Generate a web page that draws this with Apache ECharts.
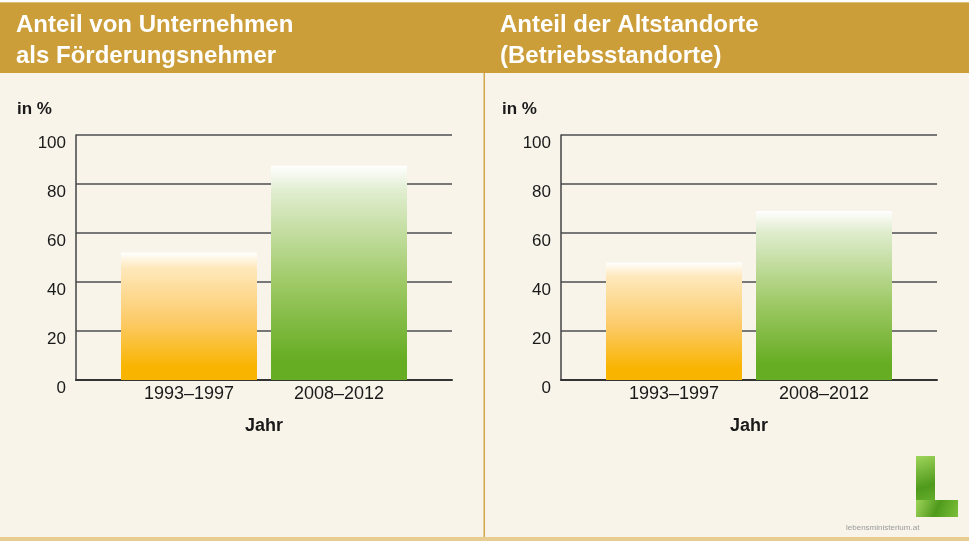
<!DOCTYPE html>
<html>
<head>
<meta charset="utf-8">
<script src="https://cdn.jsdelivr.net/npm/echarts@6/dist/echarts.min.js"></script>
<style>
  html, body { margin: 0; padding: 0; background: #ffffff; }
  #main { width: 974px; height: 541px; }
</style>
</head>
<body>
<div id="main"></div>
<script>
// data
var categories = ['1993–1997', '2008–2012'];
var unternehmen = [52, 87.5];   // Anteil von Unternehmen als Förderungsnehmer
var altstandorte = [48, 69];    // Anteil der Altstandorte
var yTicks = [0, 20, 40, 60, 80, 100];

var FONT = '"Liberation Sans", Arial, sans-serif';

var chart = echarts.init(document.getElementById('main'), null, { renderer: 'canvas' });

function barGrad(top, mid, bottom) {
  return new echarts.graphic.LinearGradient(0, 0, 0, 1, [
    { offset: 0, color: '#ffffff' },
    { offset: 0.12, color: top },
    { offset: 0.55, color: mid },
    { offset: 0.9, color: bottom },
    { offset: 1, color: bottom }
  ]);
}
var orange = barGrad('#fee8bb', '#fcca66', '#f9b400');
var green = barGrad('#e0edcf', '#9ec965', '#67ad24');

// two panels: full grid for gridlines, inner grid for bars
var panels = [
  { full: 76, inner: 114, values: unternehmen },
  { full: 561, inner: 599, values: altstandorte }
];

var grids = [], xAxes = [], yAxes = [], series = [];
panels.forEach(function (p, i) {
  grids.push({ left: p.full, top: 135, width: 376, height: 245 });
  grids.push({ left: p.inner, top: 135, width: 300, height: 245 });
  var ga = i * 2, gb = i * 2 + 1;

  xAxes.push({
    gridIndex: ga, type: 'category', data: categories,
    axisLine: { show: true, lineStyle: { color: '#333', width: 2 } },
    axisTick: { show: false }, axisLabel: { show: false }
  });
  xAxes.push({
    gridIndex: gb, type: 'category', data: categories,
    axisLine: { show: false }, axisTick: { show: false },
    axisLabel: { margin: 5, fontSize: 18, color: '#1a1a1a', fontFamily: FONT },
    name: 'Jahr', nameLocation: 'middle', nameGap: 37,
    nameTextStyle: { fontSize: 18, fontWeight: 'bold', color: '#1a1a1a', fontFamily: FONT }
  });

  yAxes.push({
    gridIndex: ga, type: 'value', min: 0, max: 100, interval: 20,
    axisLine: { show: true, lineStyle: { color: '#444', width: 1.5 } },
    axisTick: { show: false },
    splitLine: { show: true, lineStyle: { color: '#777', width: 2 } },
    axisLabel: {
      margin: 10, fontSize: 17, color: '#1a1a1a', fontFamily: FONT,
      verticalAlign: 'top',
      formatter: function (v) { return yTicks.indexOf(v) >= 0 ? String(v) : ''; }
    }
  });
  yAxes.push({
    gridIndex: gb, type: 'value', min: 0, max: 100, show: false
  });

  series.push({
    type: 'bar', xAxisIndex: gb, yAxisIndex: gb,
    barWidth: 136,
    data: p.values.map(function (v, k) {
      return { value: v, itemStyle: { color: k === 0 ? orange : green } };
    }),
    z: 3
  });
});

var titleStyle = { fill: '#ffffff', font: 'bold 24px ' + FONT, lineHeight: 31 };
var logoGreen = new echarts.graphic.LinearGradient(0, 0, 1, 1, [
  { offset: 0, color: '#9fd45a' },
  { offset: 0.5, color: '#4f9a1c' },
  { offset: 1, color: '#7cc03a' }
]);

var option = {
  backgroundColor: '#ffffff',
  animation: false,
  grid: grids,
  xAxis: xAxes,
  yAxis: yAxes,
  series: series,
  graphic: [
    { type: 'rect', z: -10, silent: true, shape: { x: 0, y: 2, width: 969, height: 539 }, style: { fill: '#f8f4ea' } },
    { type: 'rect', z: -9, silent: true, shape: { x: 0, y: 2, width: 969, height: 71 }, style: { fill: '#cc9e39' } },
    { type: 'rect', z: -9, silent: true, shape: { x: 0, y: 2, width: 969, height: 1 }, style: { fill: '#dcbf7c' } },
    { type: 'rect', z: -9, silent: true, shape: { x: 483.5, y: 73, width: 1.5, height: 468 }, style: { fill: '#d2a64a' } },
    { type: 'rect', z: -9, silent: true, shape: { x: 0, y: 537, width: 969, height: 4 }, style: { fill: '#e7cd92' } },
    { type: 'text', x: 16, y: 10, style: Object.assign({ text: 'Anteil von Unternehmen\nals Förderungsnehmer' }, titleStyle) },
    { type: 'text', x: 500, y: 10, style: Object.assign({ text: 'Anteil der Altstandorte\n(Betriebsstandorte)' }, titleStyle) },
    { type: 'text', x: 17, y: 101, style: { text: 'in %', fill: '#1a1a1a', font: 'bold 17px ' + FONT } },
    { type: 'text', x: 502, y: 101, style: { text: 'in %', fill: '#1a1a1a', font: 'bold 17px ' + FONT } },
    // logo
    { type: 'rect', silent: true, shape: { x: 916, y: 456, width: 19, height: 61 }, style: { fill: logoGreen } },
    { type: 'rect', silent: true, shape: { x: 916, y: 500, width: 42, height: 17 }, style: { fill: logoGreen } },
    { type: 'text', x: 846, y: 524, style: { text: 'lebensministerium.at', fill: '#9a9a9a', font: '8px ' + FONT } }
  ]
};

chart.setOption(option);
</script>
</body>
</html>
